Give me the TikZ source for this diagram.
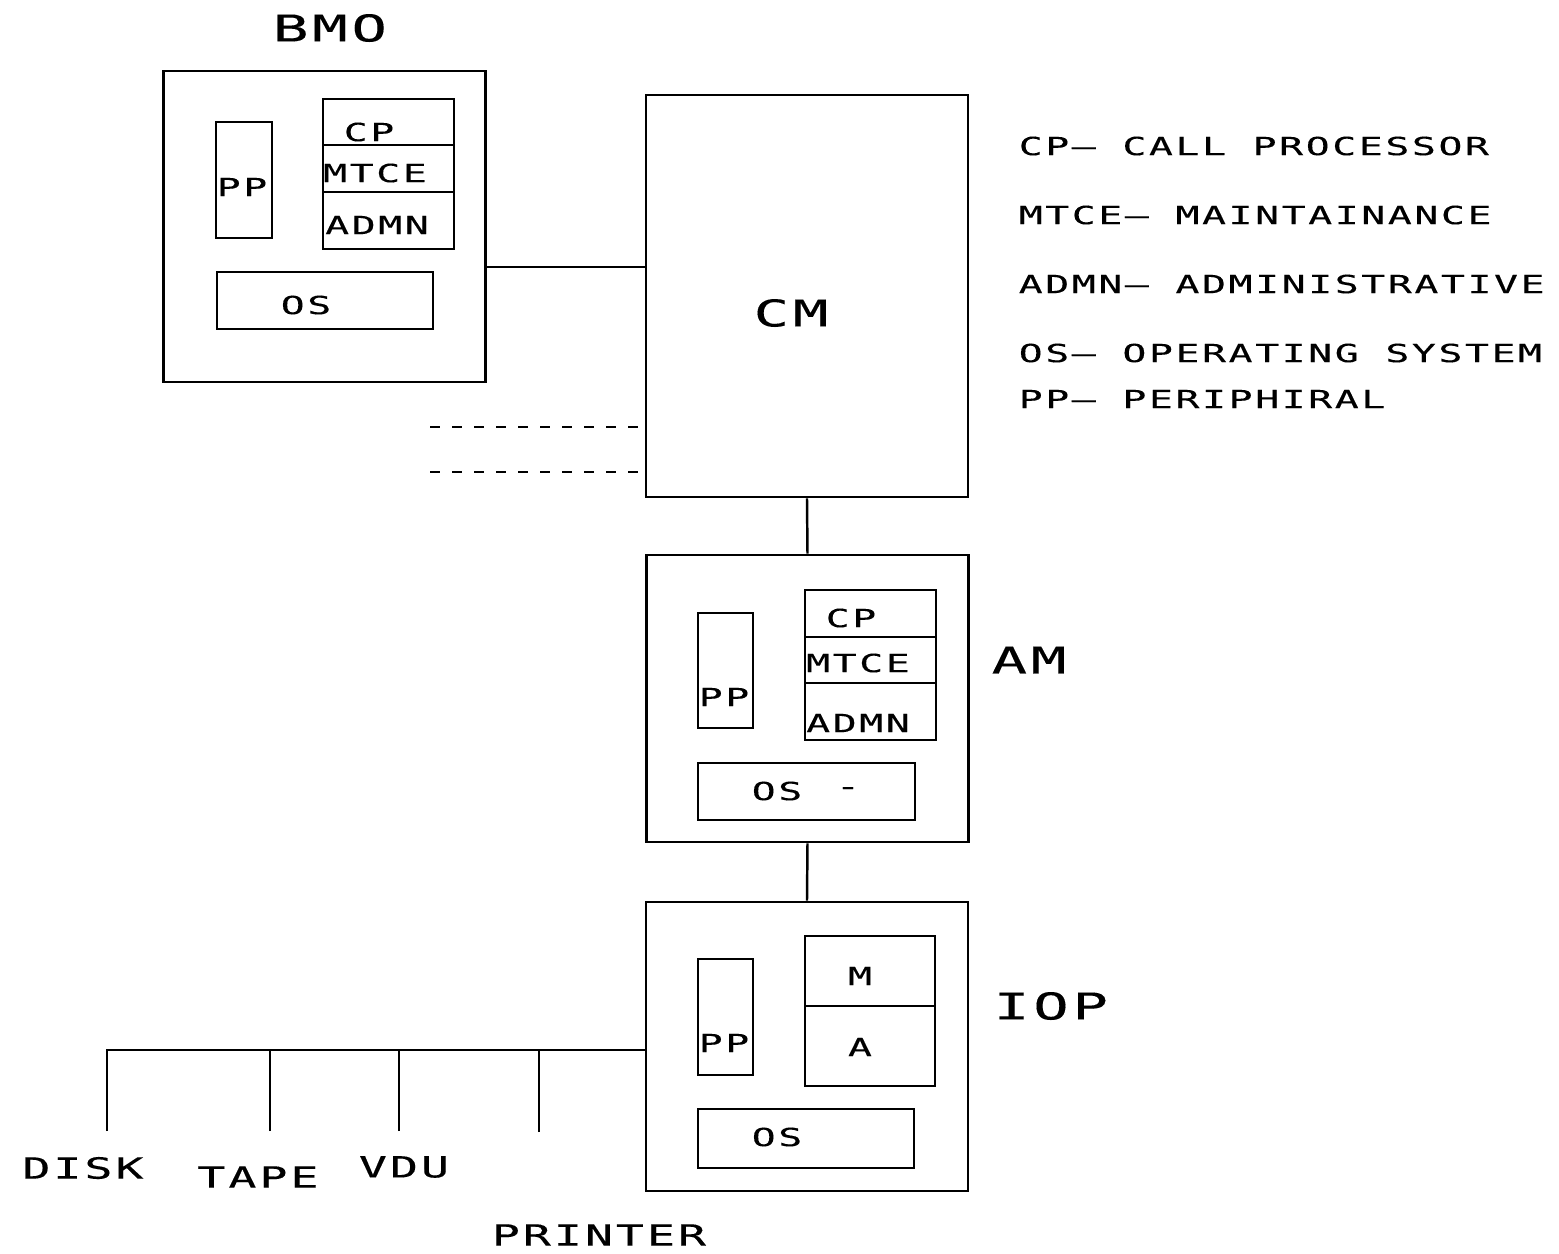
\documentclass[tikz,border=0pt]{standalone}
\usepackage{fontspec}
\usetikzlibrary{positioning}
\newfontfamily\plotfont[FakeStretch=1.6,LetterSpace=10,FakeBold=0.2]{DejaVu Sans Mono}
\newcommand{\smallplot}{\plotfont\fontsize{7.1pt}{8pt}\selectfont}
\newcommand{\midplot}{\plotfont\fontsize{8.3pt}{10pt}\selectfont}
\newcommand{\bigplot}{\plotfont\fontsize{10.5pt}{12pt}\selectfont}
\tikzset{
  module/.style={draw,line width=0.7pt,inner sep=0pt,minimum width=3.22cm},
  unit/.style={draw,line width=0.7pt,inner sep=0pt,outer sep=0pt},
  cell/.style={unit,minimum width=1.31cm},
  tag/.style={inner sep=0pt,font=\smallplot},
  title/.style={inner sep=0pt,font=\bigplot},
  device/.style={inner sep=0pt,font=\midplot},
  key/.style={inner sep=0pt,anchor=west,font=\smallplot},
  wire/.style={line width=0.7pt},
  stub/.style={line width=0.7pt,dash pattern=on 0.1cm off 0.12cm}
}

\begin{document}
\begin{tikzpicture}[x=0.01cm,y=-0.01cm]
  \useasboundingbox (0,0) rectangle (1559,1253);

  % BMO
  \node[module,minimum height=3.11cm] (bmo) at (324.5,226.5) {};
  \node[title] (bmolbl) at (330,28) {BMO};
  \node[unit,minimum width=0.56cm,minimum height=1.16cm] (bmopp) at (244,180) {};
  \node[cell,minimum height=0.46cm] (bmocp) at (388.5,122) {};
  \node[cell,minimum height=0.47cm,below=0pt of bmocp] (bmomtce) {};
  \node[cell,minimum height=0.57cm,below=0pt of bmomtce] (bmoadmn) {};
  \node[unit,minimum width=2.16cm,minimum height=0.57cm] (bmoos) at (325,300.5) {};
  \node[tag] (bmopptxt) at (242,187) {PP};
  \node[tag] (bmocptxt) at (369,132) {CP};
  \node[tag] (bmomtcetxt) at (375,173) {MTCE};
  \node[tag] (bmoadmntxt) at (377,225) {ADMN};
  \node[tag] (bmoostxt) at (306,305) {OS};

  % CM
  \node[module,minimum height=4.02cm] (cm) at (807,296) {};
  \node[title] (cmlbl) at (791,313) {CM};
  \coordinate (bmolink) at (0,267);
  \draw[wire] (bmo.east |- bmolink) -- (cm.west |- bmolink);
  \coordinate (stuba) at (430,427);
  \coordinate (stubb) at (430,472);
  \draw[stub] (stuba) -- (cm.west |- stuba);
  \draw[stub] (stubb) -- (cm.west |- stubb);

  % AM
  \node[module,minimum height=2.87cm] (am) at (807.5,698.5) {};
  \node[title] (amlbl) at (1029,660) {AM};
  \node[unit,minimum width=0.55cm,minimum height=1.15cm] (ampp) at (725.5,670.5) {};
  \node[cell,minimum height=0.47cm] (amcp) at (870.5,613.5) {};
  \node[cell,minimum height=0.46cm,below=0pt of amcp] (ammtce) {};
  \node[cell,minimum height=0.57cm,below=0pt of ammtce] (amadmn) {};
  \node[unit,minimum width=2.17cm,minimum height=0.57cm] (amos) at (806.5,791.5) {};
  \node[tag] (ampptxt) at (724,697) {PP};
  \node[tag] (amcptxt) at (851,618) {CP};
  \node[tag] (ammtcetxt) at (858,663) {MTCE};
  \node[tag] (amadmntxt) at (858,723) {ADMN};
  \node[tag] (amostxt) at (777,791) {OS};
  \node[tag] (amosdash) at (848,791) {-};
  \draw[wire] (cm.south) -- (am.north);

  % IOP
  \node[module,minimum height=2.89cm] (iop) at (807,1046.5) {};
  \node[title] (ioplbl) at (1051,1006) {IOP};
  \node[unit,minimum width=0.55cm,minimum height=1.16cm] (ioppp) at (725.5,1017) {};
  \node[cell,minimum width=1.30cm,minimum height=0.70cm] (iopm) at (870,971) {};
  \node[cell,minimum width=1.30cm,minimum height=0.80cm,below=0pt of iopm] (iopa) {};
  \node[unit,minimum width=2.16cm,minimum height=0.59cm] (iopos) at (806,1138.5) {};
  \node[tag] (iopptxt) at (724,1043) {PP};
  \node[tag] (iopmtxt) at (860,976) {M};
  \node[tag] (iopatxt) at (860,1047) {A};
  \node[tag] (ioppostxt) at (777,1137) {OS};
  \draw[wire] (am.south) -- (iop.north);

  % peripheral bus
  \coordinate (busy) at (0,1050);
  \coordinate (disk) at (107,1131);
  \coordinate (tape) at (270,1131);
  \coordinate (vdu) at (399,1131);
  \coordinate (printer) at (539,1132);
  \draw[wire] (disk) |- (iop.west |- busy);
  \foreach \d in {tape,vdu,printer}
    \draw[wire] (\d) -- (\d |- busy);
  \node[device] (disklbl) at (83,1168) {DISK};
  \node[device] (tapelbl) at (258,1177) {TAPE};
  \node[device] (vdulbl) at (404,1167) {VDU};
  \node[device] (printerlbl) at (599,1235) {PRINTER};

  % legend
  \node[key] (keycp) at (1018,146) {CP\textendash{} CALL PROCESSOR};
  \node[key] (keymtce) at (1018,215) {MTCE\textendash{} MAINTAINANCE};
  \node[key] (keyadmn) at (1018,284) {ADMN\textendash{} ADMINISTRATIVE};
  \node[key] (keyos) at (1018,353) {OS\textendash{} OPERATING SYSTEM};
  \node[key] (keypp) at (1018,399) {PP\textendash{} PERIPHIRAL};
\end{tikzpicture}
\end{document}
